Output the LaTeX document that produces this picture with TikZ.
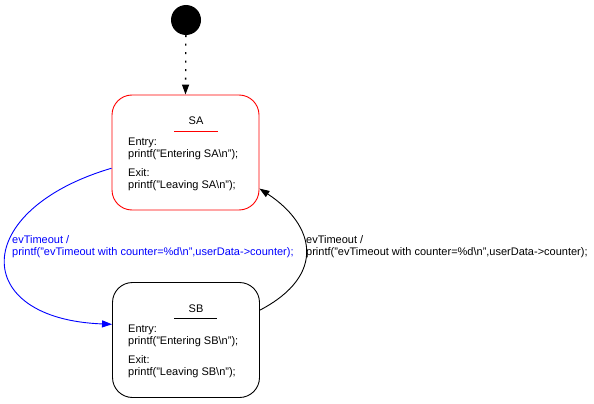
\documentclass[tikz,border=0pt]{standalone}
\usepackage{fontspec}
\setmainfont{Liberation Sans}
\usetikzlibrary{arrows.meta}
\begin{document}
\begin{tikzpicture}[x=1pt,y=-1pt,
  statebox/.style={draw, rounded corners=20pt, line width=0.9pt, inner sep=0, minimum width=147pt, minimum height=115pt},
  txt/.style={anchor=base west, inner sep=0, font=\fontsize{11}{12}\selectfont},
  ttl/.style={anchor=base, inner sep=0, font=\fontsize{11}{12}\selectfont},
  edge/.style={line width=0.9pt, -{Triangle[length=10pt,width=7pt]}}]
\useasboundingbox (0,0) rectangle (594,404);
% initial
\node[circle, fill=black, minimum size=30pt, inner sep=0] (init) at (186,20) {};
% states
\node[statebox, draw=red] (SA) at (185.5,152.5) {};
\node[statebox, draw=black] (SB) at (186,340) {};
% SA text
\node[ttl] (saname) at (196,124) {SA};
\draw[red, line width=1pt] (174,131) -- (218,131);
\node[txt] (saentry) at (128,145) {Entry:};
\node[txt] (saentryc) at (128,157) {printf("Entering SA\textbackslash n");};
\node[txt] (saexit) at (128,176) {Exit:};
\node[txt] (saexitc) at (128,188) {printf("Leaving SA\textbackslash n");};
% SB text
\node[ttl] (sbname) at (196,312) {SB};
\draw[black, line width=1pt] (174,318) -- (217,318);
\node[txt] (sbentry) at (128,332) {Entry:};
\node[txt] (sbentryc) at (128,344) {printf("Entering SB\textbackslash n");};
\node[txt] (sbexit) at (128,363) {Exit:};
\node[txt] (sbexitc) at (128,375) {printf("Leaving SB\textbackslash n");};
% initial arrow
\draw[line width=1.3pt, dash pattern=on 2pt off 6.5pt, -{Triangle[length=10pt,width=7pt]}] (init) -- (SA.north);
% SA -> SB (blue)
\draw[edge, blue] (SA.192.6) .. controls (-30,210) and (-30,319) .. (SB.168.4);
% SB -> SA (black)
\draw[edge, black] (SB.22.3) .. controls (327,275) and (315,225) .. (SA.-26.7);
% labels
\node[txt, blue] (l1a) at (12,243) {evTimeout /};
\node[txt, blue] (l1b) at (12,255) {printf("evTimeout with counter=\%d\textbackslash n",userData->counter);};
\node[txt] (l2a) at (306,243) {evTimeout /};
\node[txt] (l2b) at (306,255) {printf("evTimeout with counter=\%d\textbackslash n",userData->counter);};
\end{tikzpicture}
\end{document}
